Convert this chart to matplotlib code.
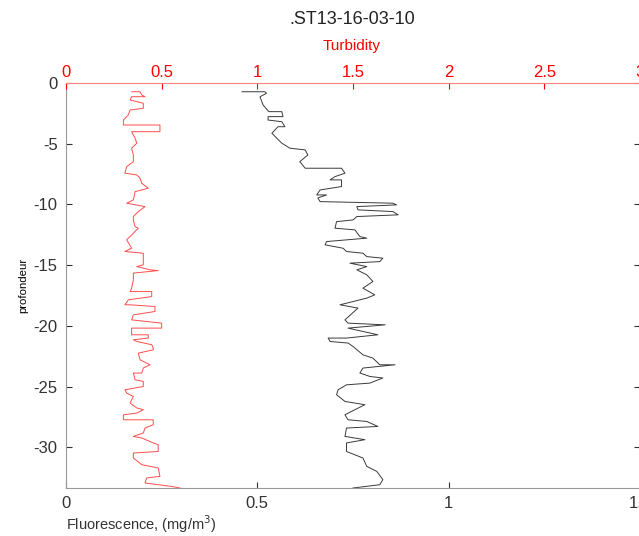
import matplotlib
matplotlib.use("Agg")
import matplotlib.pyplot as plt
import numpy as np

plt.rcParams['font.family'] = ['Liberation Sans', 'DejaVu Sans']
plt.rcParams['axes.unicode_minus'] = False

# Profil de fluorescence (mg/m3) en fonction de la profondeur
fluo_depth = [-0.72, -0.72, -0.85, -1.13, -1.81, -2.36, -2.36, -2.77, -2.77, -3.05,
              -3.19, -3.60, -3.60, -4.14, -4.55, -4.96, -5.37, -5.51, -5.93, -6.48,
              -7.02, -7.02, -7.43, -7.71, -7.98, -7.98, -8.53, -8.81, -9.22, -9.22,
              -9.47, -9.77, -9.90, -10.04, -10.18, -10.45, -10.59, -10.86, -11.00, -11.28,
              -11.42, -11.96, -12.10, -12.65, -12.78, -13.06, -13.33, -13.61, -13.88, -14.02,
              -14.30, -14.43, -14.71, -14.84, -15.12, -15.39, -15.80, -16.35, -16.90, -17.45,
              -17.72, -18.27, -18.54, -19.51, -19.78, -19.92, -20.19, -20.74, -21.01, -21.01,
              -21.29, -21.42, -21.70, -22.39, -22.66, -23.21, -23.21, -23.48, -23.89, -24.17,
              -24.30, -24.72, -24.86, -25.27, -25.68, -26.23, -26.50, -26.91, -27.33, -27.74,
              -27.88, -28.29, -28.42, -29.11, -29.38, -29.65, -30.35, -30.89, -31.58, -31.99,
              -32.67, -33.09, -33.36]
fluo = [0.460, 0.520, 0.524, 0.507, 0.515, 0.530, 0.564, 0.567, 0.528, 0.528,
        0.564, 0.572, 0.554, 0.538, 0.551, 0.564, 0.585, 0.625, 0.632, 0.611,
        0.625, 0.720, 0.729, 0.703, 0.690, 0.720, 0.720, 0.664, 0.655, 0.681,
        0.658, 0.664, 0.854, 0.864, 0.760, 0.763, 0.854, 0.868, 0.760, 0.750,
        0.707, 0.703, 0.755, 0.768, 0.786, 0.681, 0.677, 0.724, 0.733, 0.776,
        0.786, 0.828, 0.820, 0.742, 0.786, 0.760, 0.786, 0.802, 0.776, 0.807,
        0.786, 0.716, 0.763, 0.729, 0.737, 0.834, 0.737, 0.815, 0.733, 0.685,
        0.690, 0.737, 0.750, 0.776, 0.802, 0.820, 0.860, 0.776, 0.768, 0.794,
        0.828, 0.794, 0.733, 0.711, 0.707, 0.729, 0.781, 0.755, 0.729, 0.737,
        0.786, 0.815, 0.733, 0.729, 0.781, 0.733, 0.733, 0.776, 0.786, 0.812,
        0.828, 0.820, 0.750]

# Profil de turbidite
turb_depth = [-0.72, -0.72, -0.99, -1.13, -1.13, -1.40, -1.67, -2.08, -2.22, -2.63,
              -3.05, -3.46, -3.46, -4.01, -4.01, -4.55, -4.96, -5.37, -5.93, -6.48,
              -6.89, -7.43, -7.57, -7.84, -8.26, -8.67, -8.95, -9.63, -9.90, -10.18,
              -10.59, -11.00, -11.28, -11.83, -11.96, -12.92, -13.61, -13.88, -14.02, -14.98,
              -15.12, -15.39, -15.45, -15.66, -16.21, -16.90, -17.18, -17.18, -17.59, -17.86,
              -18.27, -18.27, -18.41, -18.82, -19.10, -19.51, -19.78, -20.19, -20.19, -20.74,
              -20.74, -21.01, -21.15, -21.29, -21.56, -21.84, -21.98, -22.25, -22.80, -23.21,
              -23.48, -23.89, -23.89, -24.44, -24.58, -25.00, -25.27, -25.54, -25.82, -26.36,
              -26.77, -26.91, -27.19, -27.33, -27.74, -27.74, -28.15, -28.42, -28.83, -29.11,
              -29.24, -29.65, -29.79, -30.35, -30.48, -30.89, -31.44, -31.71, -32.40, -32.53,
              -32.95, -33.09, -33.23, -33.36]
turb = [0.343, 0.387, 0.396, 0.413, 0.343, 0.335, 0.404, 0.404, 0.335, 0.326,
        0.300, 0.300, 0.491, 0.491, 0.343, 0.361, 0.370, 0.343, 0.352, 0.352,
        0.317, 0.308, 0.370, 0.387, 0.396, 0.430, 0.361, 0.352, 0.317, 0.413,
        0.378, 0.352, 0.352, 0.361, 0.378, 0.317, 0.343, 0.308, 0.404, 0.404,
        0.370, 0.439, 0.482, 0.352, 0.352, 0.343, 0.335, 0.448, 0.448, 0.326,
        0.308, 0.335, 0.465, 0.465, 0.352, 0.343, 0.500, 0.500, 0.343, 0.343,
        0.430, 0.430, 0.352, 0.370, 0.448, 0.456, 0.456, 0.378, 0.387, 0.439,
        0.404, 0.396, 0.352, 0.361, 0.404, 0.404, 0.308, 0.317, 0.352, 0.335,
        0.370, 0.404, 0.370, 0.300, 0.300, 0.456, 0.456, 0.413, 0.404, 0.352,
        0.396, 0.456, 0.482, 0.482, 0.352, 0.352, 0.396, 0.482, 0.491, 0.422,
        0.413, 0.482, 0.553, 0.596]

fig = plt.figure(figsize=(6.39, 5.36), dpi=100)
ax = fig.add_axes([66 / 639, 1 - 488 / 536, 574 / 639, 405 / 536])

ax.plot(fluo, fluo_depth, color='#3a3a3a', lw=0.7)
ax.set_xlim(0, 1.5)
ax.set_ylim(-33.36, 0)
ax.set_xticks([0, 0.5, 1, 1.5])
ax.set_xticklabels(['0', '0.5', '1', '1.5'])
ax.set_yticks([0, -5, -10, -15, -20, -25, -30])
ax.tick_params(direction='in', length=4, labelsize=12, colors='#333333',
               right=True, top=False, pad=6)
for s in ['left', 'right', 'bottom']:
    ax.spines[s].set_color('#999999')
ax.spines['top'].set_visible(False)
ax.set_ylabel('profondeur', fontsize=8.2, labelpad=4)
ax.text(0, -0.062, 'Fluorescence, (mg/m$^3$)', transform=ax.transAxes,
        fontsize=10.5, ha='left', va='top', color='#333333')

ax2 = ax.twiny()
ax2.plot(turb, turb_depth, color='#ff4d4d', lw=0.7)
ax2.set_xlim(0, 3)
ax2.set_xticks([0, 0.5, 1, 1.5, 2, 2.5, 3])
ax2.set_xticklabels(['0', '0.5', '1', '1.5', '2', '2.5', '3'])
ax2.tick_params(direction='in', length=4, labelsize=12, colors='red', pad=2)
ax2.spines['top'].set_color('#ff8080')
for s in ['left', 'right', 'bottom']:
    ax2.spines[s].set_visible(False)
ax2.text(0.498, 1 + (83 - 46) / 405, 'Turbidity', transform=ax2.transAxes,
         fontsize=11, ha='center', va='center', color='red')

fig.text(352 / 639, 1 - 19 / 536, '.ST13-16-03-10', ha='center', va='center',
         fontsize=13, color='#222222')

fig.savefig('out.png', dpi=100)
